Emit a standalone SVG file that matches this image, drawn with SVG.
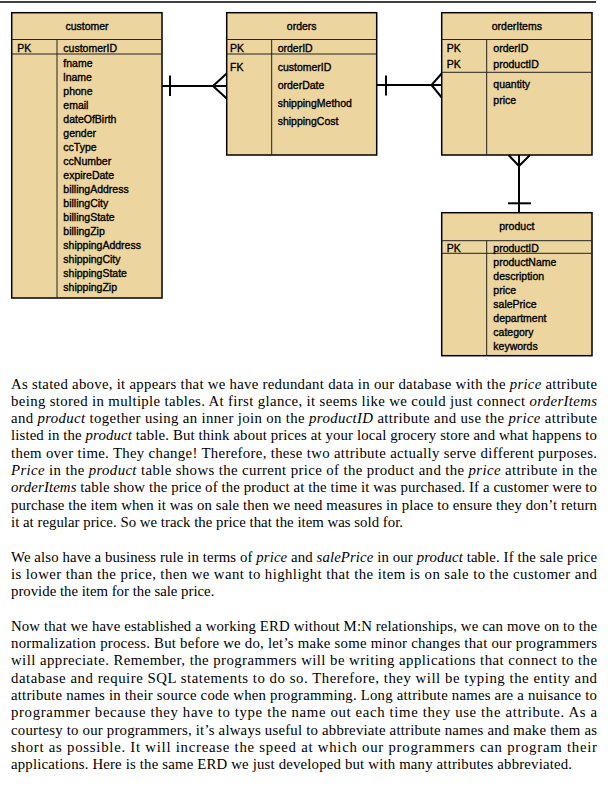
<svg xmlns="http://www.w3.org/2000/svg" width="608" height="798" viewBox="0 0 608 798">
<style>
.box{fill:#EDD5A0;stroke:#000;stroke-width:1.5}
.div{stroke:#222;stroke-width:1;fill:none}
.t{font-family:"Liberation Sans",Arial,sans-serif;font-size:10.5px;fill:#000;stroke:#000;stroke-width:0.35}
.tc{text-anchor:middle}
.c{stroke:#000;stroke-width:2;fill:none}
.p{font-family:"Liberation Serif","Times New Roman",serif;font-size:14.8px;fill:#000}
.i{font-style:italic}
</style>
<rect width="608" height="798" fill="#fff"/>
<line x1="0" y1="2" x2="596" y2="2" stroke="#000" stroke-width="1.5"/>

<g id="customer">
<rect class="box" x="11.7" y="12.7" width="150.3" height="285.3"/>
<line class="div" x1="11.7" y1="39.5" x2="162" y2="39.5"/>
<line class="div" x1="11.7" y1="54" x2="162" y2="54"/>
<line class="div" x1="57" y1="39.5" x2="57" y2="298"/>
<text class="t tc" x="87" y="29.7">customer</text>
<text class="t" x="17.3" y="51.7">PK</text>
<text class="t" x="63.3" y="51.7">customerID</text>
<text class="t" x="63.3" y="66.9">fname</text>
<text class="t" x="63.3" y="80.9">lname</text>
<text class="t" x="63.3" y="94.9">phone</text>
<text class="t" x="63.3" y="108.9">email</text>
<text class="t" x="63.3" y="122.9">dateOfBirth</text>
<text class="t" x="63.3" y="136.9">gender</text>
<text class="t" x="63.3" y="150.9">ccType</text>
<text class="t" x="63.3" y="164.9">ccNumber</text>
<text class="t" x="63.3" y="178.9">expireDate</text>
<text class="t" x="63.3" y="192.9">billingAddress</text>
<text class="t" x="63.3" y="206.9">billingCity</text>
<text class="t" x="63.3" y="220.9">billingState</text>
<text class="t" x="63.3" y="234.9">billingZip</text>
<text class="t" x="63.3" y="248.9">shippingAddress</text>
<text class="t" x="63.3" y="262.9">shippingCity</text>
<text class="t" x="63.3" y="276.9">shippingState</text>
<text class="t" x="63.3" y="290.9">shippingZip</text>
</g>

<g id="orders">
<rect class="box" x="226.7" y="12.7" width="150" height="142.3"/>
<line class="div" x1="226.7" y1="39.5" x2="376.7" y2="39.5"/>
<line class="div" x1="226.7" y1="54" x2="376.7" y2="54"/>
<line class="div" x1="271.7" y1="39.5" x2="271.7" y2="155"/>
<text class="t tc" x="301.7" y="29.7">orders</text>
<text class="t" x="230" y="51.7">PK</text>
<text class="t" x="277.7" y="51.7">orderID</text>
<text class="t" x="230" y="71.2">FK</text>
<text class="t" x="277.7" y="70.7">customerID</text>
<text class="t" x="277.7" y="88.7">orderDate</text>
<text class="t" x="277.7" y="107.2">shippingMethod</text>
<text class="t" x="277.7" y="125.2">shippingCost</text>
</g>

<g id="orderItems">
<rect class="box" x="441.7" y="12.7" width="150.3" height="142.3"/>
<line class="div" x1="441.7" y1="39.5" x2="592" y2="39.5"/>
<line class="div" x1="441.7" y1="72.3" x2="592" y2="72.3"/>
<line class="div" x1="486.7" y1="39.5" x2="486.7" y2="155"/>
<text class="t tc" x="516.8" y="29.7">orderItems</text>
<text class="t" x="446.7" y="51.9">PK</text>
<text class="t" x="493.3" y="51.9">orderID</text>
<text class="t" x="446.7" y="67.6">PK</text>
<text class="t" x="493.3" y="67.6">productID</text>
<text class="t" x="493.3" y="87.8">quantity</text>
<text class="t" x="493.3" y="104.4">price</text>
</g>

<g id="product">
<rect class="box" x="441.7" y="212.7" width="150.3" height="143"/>
<line class="div" x1="441.7" y1="240.7" x2="592" y2="240.7"/>
<line class="div" x1="441.7" y1="253.3" x2="592" y2="253.3"/>
<line class="div" x1="486.7" y1="240.7" x2="486.7" y2="355.7"/>
<text class="t tc" x="516.8" y="230.4">product</text>
<text class="t" x="446.7" y="251.9">PK</text>
<text class="t" x="493.3" y="251.9">productID</text>
<text class="t" x="493.3" y="265.9">productName</text>
<text class="t" x="493.3" y="279.9">description</text>
<text class="t" x="493.3" y="293.9">price</text>
<text class="t" x="493.3" y="307.9">salePrice</text>
<text class="t" x="493.3" y="321.9">department</text>
<text class="t" x="493.3" y="335.9">category</text>
<text class="t" x="493.3" y="349.9">keywords</text>
</g>

<g id="connectors">
<line class="c" x1="162" y1="86" x2="226.7" y2="86"/>
<line class="c" x1="170" y1="75.5" x2="170" y2="96"/>
<polyline class="c" points="226.7,73.5 213,86 226.7,98.5"/>
<line class="c" x1="376.7" y1="85" x2="441.7" y2="85"/>
<line class="c" x1="386" y1="75.5" x2="386" y2="95.5"/>
<polyline class="c" points="441.7,73.5 431.5,85 441.7,97.5"/>
<line class="c" x1="519" y1="155" x2="519" y2="212.7"/>
<polyline class="c" points="508.5,155 519,166 530,155"/>
<line class="c" x1="508" y1="203.3" x2="531" y2="203.3"/>
</g>

<g id="text">
<text class="p" x="11" y="388.5" textLength="586" lengthAdjust="spacing">As stated above, it appears that we have redundant data in our database with the <tspan class="i">price</tspan> attribute</text>
<text class="p" x="11" y="405.8" textLength="586" lengthAdjust="spacing">being stored in multiple tables. At first glance, it seems like we could just connect <tspan class="i">orderItems</tspan></text>
<text class="p" x="11" y="423.1" textLength="586" lengthAdjust="spacing">and <tspan class="i">product</tspan> together using an inner join on the <tspan class="i">productID</tspan> attribute and use the <tspan class="i">price</tspan> attribute</text>
<text class="p" x="11" y="440.4" textLength="586" lengthAdjust="spacing">listed in the <tspan class="i">product</tspan> table. But think about prices at your local grocery store and what happens to</text>
<text class="p" x="11" y="457.7" textLength="586" lengthAdjust="spacing">them over time. They change! Therefore, these two attribute actually serve different purposes.</text>
<text class="p" x="11" y="475" textLength="586" lengthAdjust="spacing"><tspan class="i">Price</tspan> in the <tspan class="i">product</tspan> table shows the current price of the product and the <tspan class="i">price</tspan> attribute in the</text>
<text class="p" x="11" y="492.3" textLength="586" lengthAdjust="spacing"><tspan class="i">orderItems</tspan> table show the price of the product at the time it was purchased. If a customer were to</text>
<text class="p" x="11" y="509.6" textLength="586" lengthAdjust="spacing">purchase the item when it was on sale then we need measures in place to ensure they don’t return</text>
<text class="p" x="11" y="526.9" textLength="392" lengthAdjust="spacing">it at regular price. So we track the price that the item was sold for.</text>

<text class="p" x="11" y="561.5" textLength="586" lengthAdjust="spacing">We also have a business rule in terms of <tspan class="i">price</tspan> and <tspan class="i">salePrice</tspan> in our <tspan class="i">product</tspan> table. If the sale price</text>
<text class="p" x="11" y="578.8" textLength="586" lengthAdjust="spacing">is lower than the price, then we want to highlight that the item is on sale to the customer and</text>
<text class="p" x="11" y="596.1">provide the item for the sale price.</text>

<text class="p" x="11" y="630.7" textLength="586" lengthAdjust="spacing">Now that we have established a working ERD without M:N relationships, we can move on to the</text>
<text class="p" x="11" y="648" textLength="586" lengthAdjust="spacing">normalization process. But before we do, let’s make some minor changes that our programmers</text>
<text class="p" x="11" y="665.3" textLength="586" lengthAdjust="spacing">will appreciate. Remember, the programmers will be writing applications that connect to the</text>
<text class="p" x="11" y="682.6" textLength="586" lengthAdjust="spacing">database and require SQL statements to do so. Therefore, they will be typing the entity and</text>
<text class="p" x="11" y="699.9" textLength="586" lengthAdjust="spacing">attribute names in their source code when programming. Long attribute names are a nuisance to</text>
<text class="p" x="11" y="717.2" textLength="586" lengthAdjust="spacing">programmer because they have to type the name out each time they use the attribute. As a</text>
<text class="p" x="11" y="734.5" textLength="586" lengthAdjust="spacing">courtesy to our programmers, it’s always useful to abbreviate attribute names and make them as</text>
<text class="p" x="11" y="751.8" textLength="586" lengthAdjust="spacing">short as possible. It will increase the speed at which our programmers can program their</text>
<text class="p" x="11" y="769.1" textLength="561" lengthAdjust="spacing">applications. Here is the same ERD we just developed but with many attributes abbreviated.</text>
</g>
</svg>
